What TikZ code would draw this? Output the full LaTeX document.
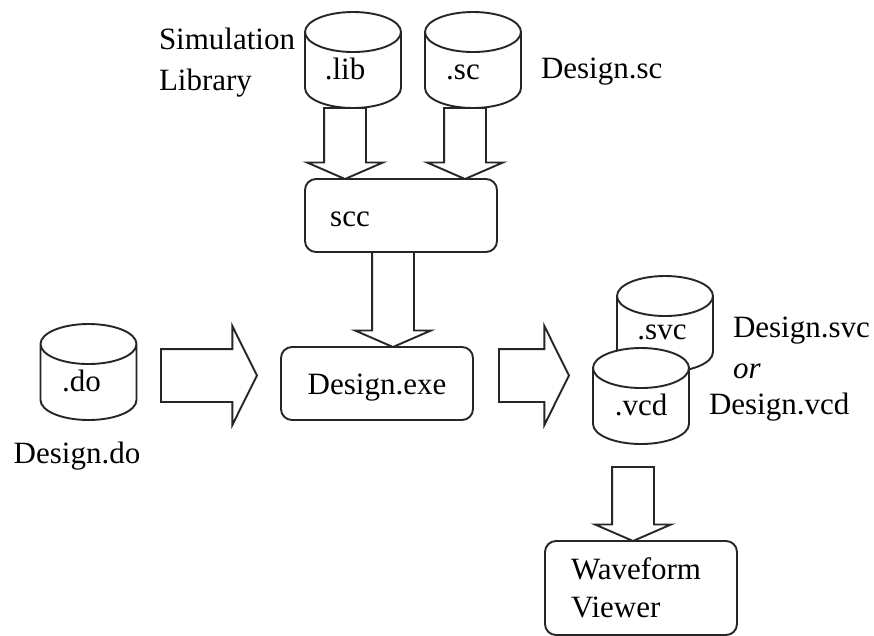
\documentclass[tikz,border=0pt]{standalone}
\usepackage{fontspec}
\setmainfont{Liberation Serif}
\usetikzlibrary{shapes,positioning}
\tikzstyle{store} = [cylinder, shape border rotate=90, aspect=0.667, anchor=shape center, draw=black!85, line width=1.9pt, fill=white, text=black, minimum width=96pt, minimum height=96pt, inner sep=0pt, outer sep=0pt, text width=60pt, align=center, text height=22pt, text depth=4pt]
\tikzstyle{tool} = [rectangle, rounded corners=11pt, draw=black!85, line width=1.9pt, fill=white, text=black, inner sep=0pt, outer sep=0pt]
\tikzstyle{flow} = [single arrow, draw=black!85, line width=1.9pt, fill=white, outer sep=0pt, single arrow head indent=0pt]
\tikzstyle{flowdown} = [flow, shape border rotate=270, xshift=-8pt, inner sep=20pt, minimum width=74pt, single arrow head extend=17pt, single arrow tip angle=133]
\tikzstyle{flowright} = [flow, yshift=8pt, inner sep=25.5pt, minimum width=97pt, single arrow head extend=23pt, single arrow tip angle=127, minimum height=96pt]
\tikzstyle{filename} = [inner sep=0pt, outer sep=0pt, text=black]

\begin{document}
\begin{tikzpicture}[x=1pt, y=-1pt, font=\fontsize{31}{41}\selectfont]
\useasboundingbox (0,0) rectangle (874,635);

% databases
\node[store] (lib) at (353,60) {.lib\hspace*{16pt}};
\node[store] (sc) at (473,60) {.sc\hspace*{20pt}};
\node[store] (do) at (88.5,372) {.do\hspace*{14pt}};
\node[store, text height=14pt] (svc) at (665,324) {.svc\hspace*{6pt}};
\node[store] (vcd) at (641,396) {.vcd};

% tools
\node[tool, minimum width=192pt, minimum height=73pt] (scc) at (401,215.5) {};
\node[tool, minimum width=192pt, minimum height=73pt, text height=28pt, text depth=6pt] (exe) at (377,383.5) {Design.exe};
\node[tool, minimum width=192pt, minimum height=94pt, text width=140pt, align=left] (viewer) at (641,588) {Waveform\\[-3pt]Viewer};
\node[filename] (scclabel) at (350,219) {scc};

% arrows
\node[flowdown, minimum height=71pt, below=0pt of lib.south] (libflow) {};
\node[flowdown, minimum height=71pt, below=0pt of sc.south] (scflow) {};
\node[flowdown, minimum height=95pt, below=0pt of scc.south] (sccflow) {};
\node[flowdown, minimum height=74pt, above=0pt of viewer.north] (vcdflow) {};
\node[flowright, left=24pt of exe.west] (doflow) {};
\node[flowright, minimum height=70pt, right=26pt of exe.east] (exeflow) {};

% names
\node[filename, align=left, anchor=north west] (simname) at (159,28) {Simulation\\Library};
\node[filename, anchor=west] (scname) at (541,72) {Design.sc};
\node[filename] (doname) at (77,456) {Design.do};
\node[filename, anchor=west] (svcname) at (733,331) {Design.svc};
\node[filename, anchor=west] (orname) at (733,371) {\textit{or}};
\node[filename, anchor=west] (vcdname) at (709,407) {Design.vcd};

\end{tikzpicture}
\end{document}
